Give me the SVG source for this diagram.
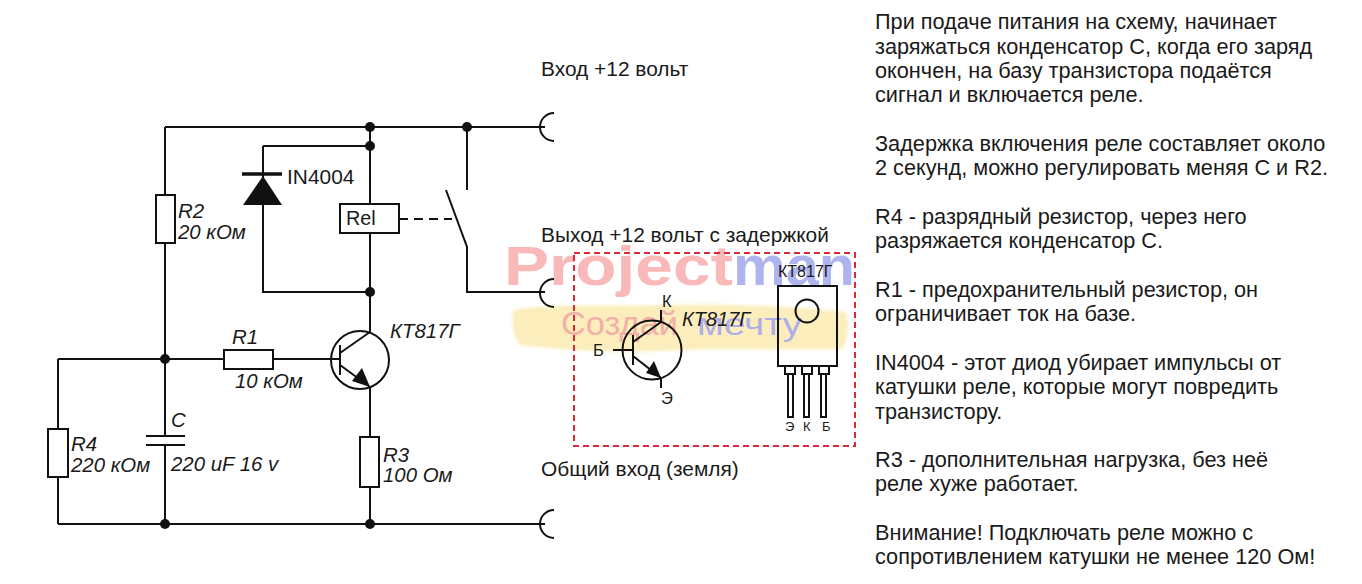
<svg xmlns="http://www.w3.org/2000/svg" width="1362" height="584" viewBox="0 0 1362 584">
<defs><filter id="soft" x="-5%" y="-20%" width="110%" height="140%"><feGaussianBlur stdDeviation="1.5"/></filter></defs>
<style>
text{font-family:"Liberation Sans",Arial,sans-serif;fill:#1a1a1a}
.w{fill:none;stroke:#111;stroke-width:2}
.b{fill:#fff;stroke:#111;stroke-width:2}
.d{fill:#111;stroke:none}
.it{font-style:italic;font-size:20.4px}
.lb{font-size:20.9px}
.t{font-size:21.7px}
.p{font-size:16.5px}
</style>
<rect width="1362" height="584" fill="#fff"/>
<g id="watermark">
<path filter="url(#soft)" d="M514 310C560 303 610 307 660 305C720 303 790 306 846 312C850 325 848 340 842 349C780 351 720 347 660 351C610 353 560 350 520 345C512 335 511 320 514 310Z" fill="#fbeebc"/>
<text x="504" y="285" textLength="229" lengthAdjust="spacingAndGlyphs" style="font-size:56px;font-weight:bold;fill:#f9b9b9">Project</text>
<text x="733" y="285" textLength="122" lengthAdjust="spacingAndGlyphs" style="font-size:56px;font-weight:bold;fill:#aeb4ee">man</text>
<text x="561" y="335" textLength="117" lengthAdjust="spacingAndGlyphs" style="font-size:34px;fill:#f2b0a8">Создай</text>
<text x="697" y="335" textLength="105" lengthAdjust="spacingAndGlyphs" style="font-size:32px;fill:#b0aee8">мечту</text>
</g>
<g id="connectors" class="w">
<path d="M165 127H545M165 127V195M165 243V436M165 445V524M58 359H224M273 359H340"/>
<path d="M58 359V429M58 477V524M58 524H545"/>
<path d="M370 127V204M370 233V332M263 146H370M263 146V292H370"/>
<path d="M467 127V190M446 190L467 247V292H545"/>
<path d="M399 219H452" stroke-dasharray="9 6"/>
<path d="M370 387V437M370 487V524"/>
<path d="M554 113A14 14 0 0 0 554 141M554 279A14 14 0 0 0 554 307M554 510A14 14 0 0 0 554 538"/>
<path d="M146 436H185M146 445H185"/>
<path d="M242 174H282" stroke-width="3.5"/>
<path d="M340 345V375M340 353L370 332M340 365L370 387"/>
</g>
<g id="junctions" class="d">
<circle cx="370" cy="127" r="5"/><circle cx="467" cy="127" r="5"/><circle cx="370" cy="146" r="5"/><circle cx="370" cy="292" r="5"/>
<circle cx="165" cy="359" r="5"/><circle cx="165" cy="524" r="5"/><circle cx="370" cy="524" r="5"/>
</g>
<g id="diode"><path class="d" d="M263 176L282 205H243Z"/><text class="lb" x="287" y="184">IN4004</text></g>
<g id="rel"><rect class="b" x="340" y="204" width="59" height="29"/><text x="346" y="225" style="font-size:19.8px">Rel</text></g>
<g id="r2"><rect class="b" x="156" y="195" width="19" height="48"/><text class="it" x="178" y="218">R2</text><text class="it" x="178" y="239">20 кОм</text></g>
<g id="r1"><rect class="b" x="224" y="350" width="49" height="19"/><text class="it" x="232" y="344">R1</text><text class="it" x="235" y="388">10 кОм</text></g>
<g id="r4"><rect class="b" x="48" y="429" width="20" height="48"/><text class="it" x="71" y="451">R4</text><text class="it" x="71" y="472">220 кОм</text></g>
<g id="r3"><rect class="b" x="360" y="437" width="19" height="50"/><text class="it" x="383" y="462">R3</text><text class="it" x="383" y="482">100 Ом</text></g>
<g id="c"><text class="it" x="171" y="427">C</text><text class="it" x="171" y="471">220 uF 16 v</text></g>
<g id="q"><circle class="w" cx="360" cy="360" r="29"/><path class="d" d="M370 387L352 381L362 368Z"/><text x="390" y="338" style="font-size:20.4px;font-style:italic">КТ817Г</text></g>
<g id="inputs">
<text class="lb" x="541" y="76">Вход +12 вольт</text>
<text class="lb" x="541" y="242">Выход +12 вольт с задержкой</text>
<text class="lb" x="541" y="476">Общий вход (земля)</text>
</g>
<g id="pinout">
<rect x="574" y="253" width="281" height="193" fill="none" stroke="#d8283a" stroke-width="2" stroke-dasharray="6 4"/>
<circle class="w" cx="652" cy="350" r="29.5"/>
<path class="w" d="M613 350H633M633 335V365M633 342L661 322V310M633 356L661 378V388"/>
<path class="d" d="M661 378L646 373L654 361Z"/>
<text class="p" x="662" y="307">К</text>
<text class="p" x="593" y="356">Б</text>
<text class="p" x="661" y="404">Э</text>
<text x="682" y="326" style="font-size:20px;font-style:italic">КТ817Г</text>
<text x="778" y="277" style="font-size:16px">КТ817Г</text>
<rect class="w" x="778" y="286" width="59" height="80"/>
<circle class="w" cx="807" cy="311" r="11.5"/>
<path class="w" d="M785 366V374H795V366M802 366V374H812V366M819 366V374H829V366" stroke-width="1.5"/>
<path class="w" d="M788 374V417H793V374M804 374V417H809V374M821 374V417H826V374" stroke-width="1.5"/>
<text x="785" y="431" style="font-size:13px">Э</text>
<text x="803" y="431" style="font-size:13px">К</text>
<text x="822" y="431" style="font-size:13px">Б</text>
</g>
<g id="notes">
<text class="t" x="875" y="29">При подаче питания на схему, начинает</text>
<text class="t" x="875" y="54">заряжаться конденсатор С, когда его заряд</text>
<text class="t" x="875" y="78">окончен, на базу транзистора подаётся</text>
<text class="t" x="875" y="102">сигнал и включается реле.</text>
<text class="t" x="875" y="151">Задержка включения реле составляет около</text>
<text class="t" x="875" y="175">2 секунд, можно регулировать меняя С и R2.</text>
<text class="t" x="875" y="224">R4 - разрядный резистор, через него</text>
<text class="t" x="875" y="248">разряжается конденсатор С.</text>
<text class="t" x="875" y="297">R1 - предохранительный резистор, он</text>
<text class="t" x="875" y="321">ограничивает ток на базе.</text>
<text class="t" x="875" y="370">IN4004 - этот диод убирает импульсы от</text>
<text class="t" x="875" y="394">катушки реле, которые могут повредить</text>
<text class="t" x="875" y="419">транзистору.</text>
<text class="t" x="875" y="467">R3 - дополнительная нагрузка, без неё</text>
<text class="t" x="875" y="491">реле хуже работает.</text>
<text class="t" x="875" y="540">Внимание! Подключать реле можно с</text>
<text class="t" x="875" y="564">сопротивлением катушки не менее 120 Ом!</text>
</g>
</svg>
